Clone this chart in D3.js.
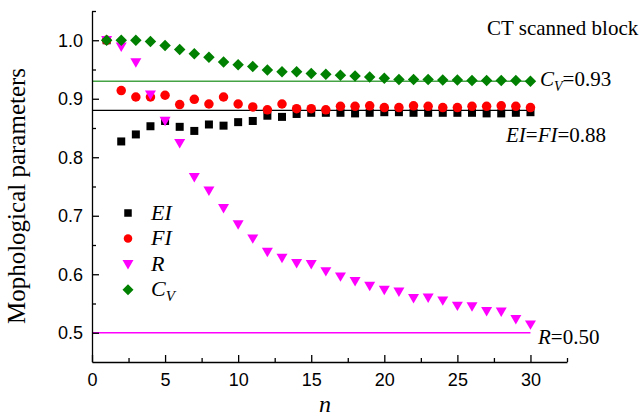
<!DOCTYPE html>
<html>
<head>
<meta charset="utf-8">
<script src="https://cdn.jsdelivr.net/npm/d3@7/dist/d3.min.js"></script>
<style>
  html, body { margin: 0; padding: 0; background: #fff; }
  svg { display: block; }
  .tick text { font-family: "Liberation Sans", Arial, sans-serif; font-size: 18px; fill: #000; }
  .serif { font-family: "Liberation Serif", "Times New Roman", serif; fill: #000; }
</style>
</head>
<body>
<svg id="chart" width="641" height="417"></svg>
<script>
// Number of subdivisions n
const nValues = d3.range(1, 31);

// Morphological parameters for each n
const EI = [1.000, 0.827, 0.839, 0.853, 0.862, 0.852, 0.845, 0.856, 0.854, 0.860,
            0.862, 0.871, 0.869, 0.874, 0.876, 0.876, 0.876, 0.875, 0.876, 0.877,
            0.877, 0.876, 0.876, 0.876, 0.876, 0.876, 0.875, 0.875, 0.876, 0.877];
const FI = [1.000, 0.914, 0.903, 0.903, 0.906, 0.890, 0.899, 0.891, 0.903, 0.891,
            0.886, 0.881, 0.891, 0.883, 0.883, 0.881, 0.887, 0.887, 0.888, 0.885,
            0.885, 0.888, 0.887, 0.885, 0.885, 0.887, 0.887, 0.888, 0.887, 0.885];
const R  = [1.000, 0.989, 0.962, 0.907, 0.862, 0.824, 0.766, 0.743, 0.713, 0.685,
            0.661, 0.638, 0.628, 0.619, 0.617, 0.605, 0.596, 0.588, 0.580, 0.573,
            0.570, 0.559, 0.560, 0.555, 0.546, 0.545, 0.537, 0.536, 0.523, 0.514];
const CV = [1.000, 1.000, 1.000, 0.998, 0.991, 0.984, 0.977, 0.971, 0.963, 0.958,
            0.955, 0.949, 0.946, 0.946, 0.943, 0.942, 0.940, 0.939, 0.937, 0.935,
            0.933, 0.933, 0.933, 0.932, 0.932, 0.931, 0.931, 0.931, 0.931, 0.930];

// Converged reference levels
const refCV = 0.93;
const refEIFI = 0.88;
const refR = 0.50;

// Axis ticks
const xMajorTicks = [0, 5, 10, 15, 20, 25, 30];
const xMinorTicks = [2.5, 7.5, 12.5, 17.5, 22.5, 27.5, 32.5];
const yMajorTicks = [0.5, 0.6, 0.7, 0.8, 0.9, 1.0];
const yMinorTicks = [0.55, 0.65, 0.75, 0.85, 0.95, 1.05];

const svg = d3.select("#chart");

const x = d3.scaleLinear().domain([0, 32.5]).range([92, 567]);
const y = d3.scaleLinear().domain([0.45, 1.05]).range([362, 11]);

// Horizontal reference lines, from n = 0 to n = 30
const refs = [
  { v: refCV, color: "#45a345", w: 1.6 },
  { v: refEIFI, color: "#000000", w: 1.3 },
  { v: refR, color: "#ff00ff", w: 1.6 }
];
svg.append("g").selectAll("line").data(refs).join("line")
  .attr("x1", x(0)).attr("x2", x(30))
  .attr("y1", d => y(d.v)).attr("y2", d => y(d.v))
  .attr("stroke", d => d.color).attr("stroke-width", d => d.w);

// Axes: ticks point into the plot
const xAxis = svg.append("g").attr("transform", `translate(0,${y.range()[0]})`)
  .call(d3.axisBottom(x).tickValues(xMajorTicks).tickFormat(d3.format("d"))
        .tickSize(-7).tickSizeOuter(0).tickPadding(11));
svg.append("g").attr("transform", `translate(0,${y.range()[0]})`)
  .call(d3.axisBottom(x).tickValues(xMinorTicks).tickFormat("")
        .tickSize(-4).tickSizeOuter(0))
  .select(".domain").remove();

const yAxis = svg.append("g").attr("transform", `translate(${x.range()[0]},0)`)
  .call(d3.axisLeft(y).tickValues(yMajorTicks).tickFormat(d3.format(".1f"))
        .tickSize(-7).tickSizeOuter(0).tickPadding(9));
svg.append("g").attr("transform", `translate(${x.range()[0]},0)`)
  .call(d3.axisLeft(y).tickValues(yMinorTicks).tickFormat("")
        .tickSize(-4).tickSizeOuter(0))
  .select(".domain").remove();

svg.selectAll(".domain, .tick line").attr("stroke", "#000").attr("stroke-width", 1.3);

// Marker shapes
const shapes = {
  square: (g, s) => g.append("rect").attr("x", -s / 2).attr("y", -s / 2).attr("width", s).attr("height", s),
  circle: (g, s) => g.append("circle").attr("r", s / 2),
  triDown: (g, s) => g.append("path").attr("d", `M${-s / 2},${-s * 0.38}L${s / 2},${-s * 0.38}L0,${s * 0.48}Z`),
  diamond: (g, s) => g.append("path").attr("d", `M0,${-s / 2}L${s / 2},0L0,${s / 2}L${-s / 2},0Z`)
};

const series = [
  { name: "EI", values: EI, shape: "square", size: 8, color: "#000000" },
  { name: "FI", values: FI, shape: "circle", size: 9.5, color: "#ff0000" },
  { name: "R", values: R, shape: "triDown", size: 11, color: "#ff00ff" },
  { name: "CV", values: CV, shape: "diamond", size: 11.5, color: "#008000" }
];

series.forEach(s => {
  const g = svg.append("g").attr("fill", s.color);
  s.values.forEach((v, i) => {
    const m = g.append("g").attr("transform", `translate(${x(nValues[i])},${y(v)})`);
    shapes[s.shape](m, s.size);
  });
});

// Legend
const legendRows = [
  { label: "EI", shape: "square", size: 7.5, color: "#000000" },
  { label: "FI", shape: "circle", size: 8.5, color: "#ff0000" },
  { label: "R", shape: "triDown", size: 11, color: "#ff00ff" },
  { label: "C", sub: "V", shape: "diamond", size: 11, color: "#008000" }
];
legendRows.forEach((r, i) => {
  const cy = 213 + i * 25.6;
  const m = svg.append("g").attr("transform", `translate(128,${cy})`).attr("fill", r.color);
  shapes[r.shape](m, r.size);
  const t = svg.append("text").attr("class", "serif")
    .attr("x", 151).attr("y", cy + 6.5)
    .attr("font-size", 22).attr("font-style", "italic").text(r.label);
  if (r.sub) t.append("tspan").attr("dy", 5).attr("font-size", 15).text(r.sub);
});

// Annotations
svg.append("text").attr("class", "serif").attr("x", 487).attr("y", 35)
  .attr("font-size", 21).text("CT scanned block");

const tCV = svg.append("text").attr("class", "serif").attr("x", 540).attr("y", 86)
  .attr("font-size", 21);
tCV.append("tspan").attr("font-style", "italic").text("C");
tCV.append("tspan").attr("font-style", "italic").attr("font-size", 14).attr("dy", 5).text("V");
tCV.append("tspan").attr("dy", -5).text("=" + refCV.toFixed(2));

const tEF = svg.append("text").attr("class", "serif").attr("x", 506).attr("y", 142)
  .attr("font-size", 21);
tEF.append("tspan").attr("font-style", "italic").text("EI");
tEF.append("tspan").text("=");
tEF.append("tspan").attr("font-style", "italic").text("FI");
tEF.append("tspan").text("=" + refEIFI.toFixed(2));

const tR = svg.append("text").attr("class", "serif").attr("x", 538).attr("y", 344)
  .attr("font-size", 21);
tR.append("tspan").attr("font-style", "italic").text("R");
tR.append("tspan").text("=" + refR.toFixed(2));

// Axis titles
svg.append("text").attr("class", "serif")
  .attr("transform", "translate(25,196) rotate(-90)")
  .attr("text-anchor", "middle").attr("font-size", 25)
  .text("Mophological parameters");

svg.append("text").attr("class", "serif")
  .attr("x", 325).attr("y", 412).attr("text-anchor", "middle")
  .attr("font-size", 24).attr("font-style", "italic").text("n");
</script>
</body>
</html>
